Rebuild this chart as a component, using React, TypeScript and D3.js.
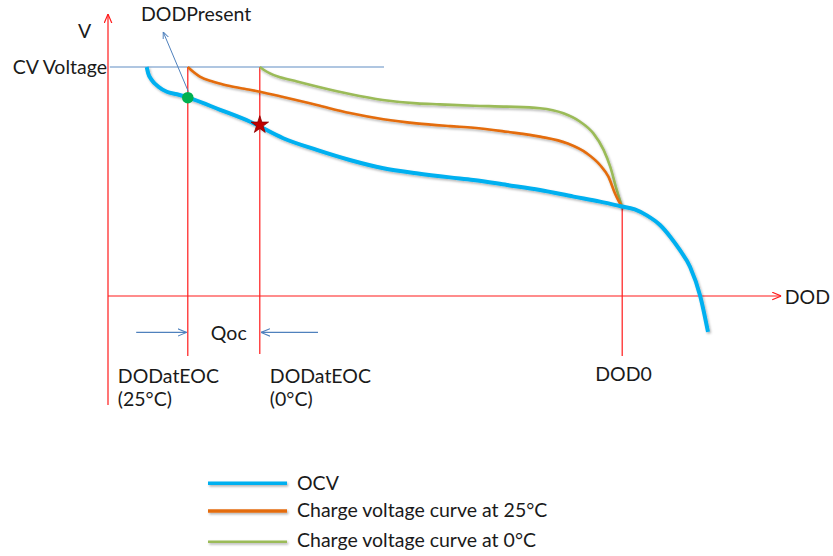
import React from "react";
import * as d3 from "d3";

// ---- data (DOD in %, voltage in relative units: 0 = DOD axis, 100 = CV voltage) ----
const ocvDod = [6.45, 6.7, 7.3, 8.4, 9.8, 11.5, 13.4, 18.7, 23.7, 29.2, 34.8, 40.3, 45.9, 51.4, 57.0, 60.9, 66.5, 72.0, 77.6, 82.0, 85.3, 87.8, 89.8, 92.0, 93.7, 95.3, 97.0, 98.7, 100.0];
const ocvV = [100, 97.2, 94.3, 91.4, 89.2, 88.1, 86.6, 81.3, 76.1, 68.9, 63.8, 59.4, 55.8, 53.6, 51.8, 50.7, 48.5, 46.3, 43.4, 41.2, 39.3, 37.8, 35.2, 31.0, 25.9, 20.1, 12.8, 0, -15.7];

const c25Dod = [13.3, 14.2, 15.3, 17.55, 20.3, 23.1, 25.3, 29.2, 34.8, 40.3, 45.9, 51.4, 57.0, 60.9, 66.5, 72.0, 76.5, 79.8, 82.0, 83.4, 84.5, 85.1, 85.7];
const c25V = [100, 97.9, 95.8, 93.6, 91.7, 90.3, 89.2, 86.9, 83.4, 79.9, 77.2, 75.4, 74.2, 73.5, 71.7, 69.6, 66.7, 62.3, 57.2, 52.1, 44.8, 41.5, 38.7];

const c0Dod = [25.3, 26.0, 27.0, 28.7, 31.5, 34.8, 40.3, 45.8, 51.5, 55.3, 60.9, 66.5, 72.0, 75.9, 78.7, 80.9, 82.6, 83.7, 84.8, 85.7];
const c0V = [100, 98.7, 97.2, 95.5, 93.7, 91.5, 88.2, 85.6, 84.1, 83.7, 83.1, 82.7, 82.0, 79.8, 76.1, 71.0, 63.8, 56.5, 46.3, 38.7];

const cvVoltage = 100;
const cvLineDod = [0.3, 46];
const dodEOC25 = 13.3;
const dodEOC0 = 25.3;
const dod0 = 85.7;
const vAtEOC25 = 86.6;
const vAtEOC0 = 74.7;
const vAtDod0 = 38.7;

const xAxisEnd = 112.2;
const yAxisTop = 123.1;
const yAxisBottom = -47.6;
const eocLineBottom = [-26.2, -25.3];
const dod0LineBottom = -26.2;
const qocLevel = -15.9;
const qocLeftArrow = [4.7, 13.1];
const qocRightArrow = [35.0, 25.5];
const presentArrowFrom = [13.4, 89.2];
const presentArrowTo = [9.2, 115.3];

const legendLabels = ["OCV", "Charge voltage curve at 25°C", "Charge voltage curve at 0°C"];
const legendColors = ["#00B0F0", "#E46C0A", "#9BBB59"];
const legendWidths = [3.6, 3.6, 2.6];

const FONT = "Lato, 'Open Sans', sans-serif";

export default function App() {
  const width = 833;
  const height = 556;
  const x = d3.scaleLinear().domain([0, 100]).range([108, 708]);
  const y = d3.scaleLinear().domain([0, 100]).range([296, 67]);

  const toPts = (xs: number[], ys: number[]) => xs.map((d, i) => [d, ys[i]] as [number, number]);
  const line = d3
    .line<[number, number]>()
    .x((d) => x(d[0]))
    .y((d) => y(d[1]))
    .curve(d3.curveMonotoneX);

  const ocvPath = line(toPts(ocvDod, ocvV)) || "";
  const c25Path = line(toPts(c25Dod, c25V)) || "";
  const c0Path = line(toPts(c0Dod, c0V)) || "";

  const star = d3.symbol().type(d3.symbolStar).size(95)() || "";

  const red = "#FF1A1A";
  const blueArrow = "#4F81BD";
  const textColor = "#1a1a1a";
  const fs = 19.5;

  const qocMid = (x(dodEOC25) + x(dodEOC0)) / 2;

  return (
    <svg width={width} height={height} style={{ position: "absolute", left: 0, top: 0, background: "#fff" }}>
      <defs>
        <filter id="shadow" filterUnits="userSpaceOnUse" x="0" y="0" width={width} height={height}>
          <feDropShadow dx="1.2" dy="1.6" stdDeviation="1" floodColor="#000" floodOpacity="0.3" />
        </filter>
        <marker id="arrRed" viewBox="0 0 10 10" refX="10" refY="5" markerWidth="9" markerHeight="9" markerUnits="userSpaceOnUse" orient="auto">
          <path d="M0,0.8 L10,5 L0,9.2" fill="none" stroke={red} strokeWidth="1.3" />
        </marker>
        <marker id="arrBlue" viewBox="0 0 10 10" refX="10" refY="5" markerWidth="9" markerHeight="9" markerUnits="userSpaceOnUse" orient="auto">
          <path d="M0,0.8 L10,5 L0,9.2" fill="none" stroke={blueArrow} strokeWidth="1.2" />
        </marker>
        <marker id="arrBlueSmall" viewBox="0 0 10 10" refX="10" refY="5" markerWidth="7" markerHeight="7" markerUnits="userSpaceOnUse" orient="auto">
          <path d="M0,0.8 L10,5 L0,9.2" fill="none" stroke={blueArrow} strokeWidth="1.4" />
        </marker>
      </defs>

      {/* axes */}
      <line x1={x(0)} y1={y(yAxisBottom)} x2={x(0)} y2={y(yAxisTop)} stroke={red} strokeWidth={1.2} markerEnd="url(#arrRed)" />
      <line x1={x(0)} y1={y(0)} x2={x(xAxisEnd)} y2={y(0)} stroke={red} strokeWidth={1.2} markerEnd="url(#arrRed)" />

      {/* CV voltage line */}
      <line x1={x(cvLineDod[0])} y1={y(cvVoltage)} x2={x(cvLineDod[1])} y2={y(cvVoltage)} stroke="#95B3D7" strokeWidth={1.6} />

      {/* vertical markers */}
      <line x1={x(dodEOC25)} y1={y(cvVoltage)} x2={x(dodEOC25)} y2={y(eocLineBottom[0])} stroke={red} strokeWidth={1.2} />
      <line x1={x(dodEOC0)} y1={y(cvVoltage)} x2={x(dodEOC0)} y2={y(eocLineBottom[1])} stroke={red} strokeWidth={1.2} />
      <line x1={x(dod0)} y1={y(vAtDod0)} x2={x(dod0)} y2={y(dod0LineBottom)} stroke={red} strokeWidth={1.2} />

      {/* curves */}
      <path d={c0Path} fill="none" stroke={legendColors[2]} strokeWidth={2.6} filter="url(#shadow)" />
      <path d={c25Path} fill="none" stroke={legendColors[1]} strokeWidth={2.6} filter="url(#shadow)" />
      <path d={ocvPath} fill="none" stroke={legendColors[0]} strokeWidth={4} filter="url(#shadow)" />

      {/* DODPresent arrow */}
      <line
        x1={x(presentArrowFrom[0])}
        y1={y(presentArrowFrom[1])}
        x2={x(presentArrowTo[0])}
        y2={y(presentArrowTo[1])}
        stroke={blueArrow}
        strokeWidth={1}
        markerEnd="url(#arrBlueSmall)"
      />

      {/* markers on OCV */}
      <circle cx={x(dodEOC25)} cy={y(vAtEOC25)} r={5.8} fill="#00B050" />
      <path d={star} transform={`translate(${x(dodEOC0)},${y(vAtEOC0)})`} fill="#C00000" stroke="#8B0000" strokeWidth={0.8} />

      {/* Qoc arrows */}
      <line x1={x(qocLeftArrow[0])} y1={y(qocLevel)} x2={x(qocLeftArrow[1])} y2={y(qocLevel)} stroke={blueArrow} strokeWidth={1.1} markerEnd="url(#arrBlue)" />
      <line x1={x(qocRightArrow[0])} y1={y(qocLevel)} x2={x(qocRightArrow[1])} y2={y(qocLevel)} stroke={blueArrow} strokeWidth={1.1} markerEnd="url(#arrBlue)" />

      {/* text */}
      <g fontFamily={FONT} fontSize={fs} fill={textColor}>
        <text x={x(0) - 30} y={38}>V</text>
        <text x={x(0) - 1} y={y(cvVoltage) + 7} textAnchor="end">CV Voltage</text>
        <text x={141} y={21}>DODPresent</text>
        <text x={830} y={y(0) + 8} textAnchor="end">DOD</text>
        <text x={qocMid + 5} y={y(qocLevel) + 8} textAnchor="middle">Qoc</text>
        <text x={x(dodEOC25) - 70} y={383}>DODatEOC</text>
        <text x={x(dodEOC25) - 70} y={406}>(25°C)</text>
        <text x={x(dodEOC0) + 10} y={383}>DODatEOC</text>
        <text x={x(dodEOC0) + 10} y={406}>(0°C)</text>
        <text x={x(dod0) - 27} y={381}>DOD0</text>
      </g>

      {/* legend */}
      {legendLabels.map((label, i) => {
        const ly = [483.3, 511, 541.7][i];
        const ty = [490, 517, 547.3][i];
        return (
          <g key={label}>
            <line x1={208} x2={287} y1={ly} y2={ly} stroke={legendColors[i]} strokeWidth={legendWidths[i]} filter="url(#shadow)" />
            <text x={297} y={ty} fontFamily={FONT} fontSize={fs} fill={textColor}>
              {label}
            </text>
          </g>
        );
      })}
    </svg>
  );
}
